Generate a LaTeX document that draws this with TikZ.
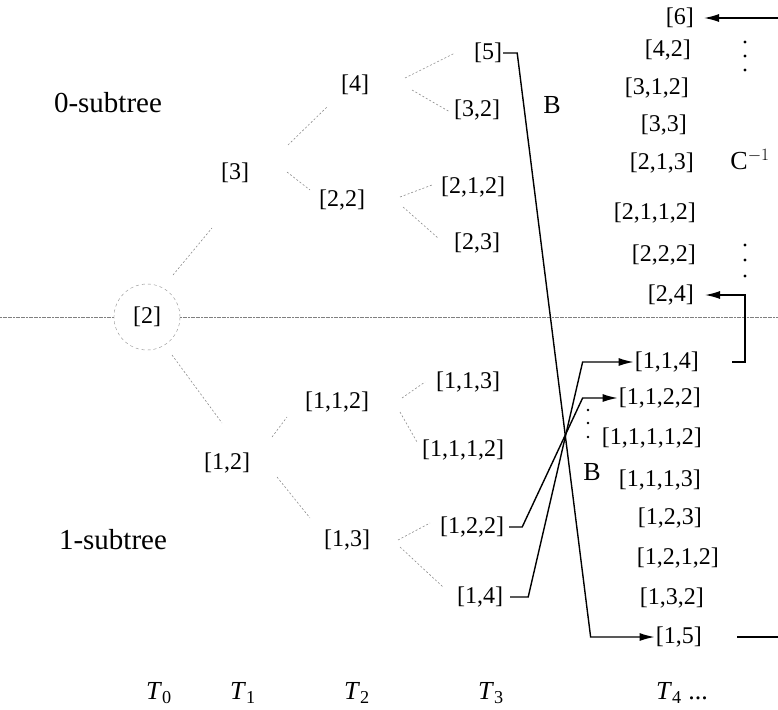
\documentclass[tikz,border=0pt]{standalone}
\usepackage{fontspec}
\setmainfont{Liberation Serif}
\usetikzlibrary{arrows.meta,calc}
\begin{document}
\begin{tikzpicture}[x=1pt,y=-1pt,
  lbl/.style={font=\fontsize{24}{28}\selectfont, inner sep=1pt},
  big/.style={font=\fontsize{29}{34}\selectfont, inner sep=0pt},
  branch/.style={draw=black!45, line width=0.6pt, dash pattern=on 2pt off 2pt},
  hline/.style={draw=black!50, line width=0.9pt, dash pattern=on 2pt off 0.6pt},
  conn/.style={draw=black, line width=1.4pt},
  arr/.style={conn, -{Latex[length=15pt,width=8pt]}},
  dot/.style={fill=black}
  ]
\useasboundingbox (0,0) rectangle (778,709);
% tree nodes
\node[lbl, circle, draw=black!45, dashed, minimum size=66pt] (n2) at (147,317) {[2]};
\node[lbl] (n3) at (235,173) {[3]};
\node[lbl] (n12) at (227,463) {[1,2]};
\node[lbl] (n4) at (355,85) {[4]};
\node[lbl] (n22) at (342,200) {[2,2]};
\node[lbl] (n112) at (337,402) {[1,1,2]};
\node[lbl] (n13) at (347,540) {[1,3]};
\node[lbl] (n5) at (488,53) {[5]};
\node[lbl] (n32) at (477,110) {[3,2]};
\node[lbl] (n212) at (473,187) {[2,1,2]};
\node[lbl] (n23) at (477,243) {[2,3]};
\node[lbl] (n113) at (468,382) {[1,1,3]};
\node[lbl] (n1112) at (463,450) {[1,1,1,2]};
\node[lbl] (n122) at (472,527) {[1,2,2]};
\node[lbl] (n14) at (480,597) {[1,4]};
% right column
\node[lbl, anchor=east] (r6) at (695,18) {[6]};
\node[lbl, anchor=east] (r42) at (692,50) {[4,2]};
\node[lbl, anchor=east] (r312) at (690,88) {[3,1,2]};
\node[lbl, anchor=east] (r33) at (688,125) {[3,3]};
\node[lbl, anchor=east] (r213) at (695,163) {[2,1,3]};
\node[lbl, anchor=east] (r2112) at (697,213) {[2,1,1,2]};
\node[lbl, anchor=east] (r222) at (697,255) {[2,2,2]};
\node[lbl, anchor=east] (r24) at (695,295) {[2,4]};
\node[lbl, anchor=east] (r114) at (700,362) {[1,1,4]};
\node[lbl, anchor=east] (r1122) at (702,398) {[1,1,2,2]};
\node[lbl, anchor=east] (r11112) at (703,438) {[1,1,1,1,2]};
\node[lbl, anchor=east] (r1113) at (702,480) {[1,1,1,3]};
\node[lbl, anchor=east] (r123) at (703,518) {[1,2,3]};
\node[lbl, anchor=east] (r1212) at (720,558) {[1,2,1,2]};
\node[lbl, anchor=east] (r132) at (705,598) {[1,3,2]};
\node[lbl, anchor=east] (r15) at (703,637) {[1,5]};
% labels
\node[big] (sub0) at (108,103) {0-subtree};
\node[big] (sub1) at (113,540) {1-subtree};
\node[lbl, font=\fontsize{26}{30}\selectfont] (B1) at (552,105) {B};
\node[lbl, font=\fontsize{26}{30}\selectfont] (B2) at (592,472) {B};
\node[lbl, font=\fontsize{26}{30}\selectfont] (Cinv) at (750,160) {C$^{-1}$};
\node[lbl, font=\fontsize{26}{30}\selectfont] (T0) at (159,693) {\textit{T}\textsubscript{0}};
\node[lbl, font=\fontsize{26}{30}\selectfont] (T1) at (243,693) {\textit{T}\textsubscript{1}};
\node[lbl, font=\fontsize{26}{30}\selectfont] (T2) at (357,693) {\textit{T}\textsubscript{2}};
\node[lbl, font=\fontsize{26}{30}\selectfont] (T3) at (491,693) {\textit{T}\textsubscript{3}};
\node[lbl, font=\fontsize{26}{30}\selectfont] (T4) at (682,693) {\textit{T}\textsubscript{4} ...};
% separating line
\coordinate (hl) at (0,317);
\coordinate (hr) at (778,317);
\draw[hline] (hl) -- (n2.west);
\draw[hline] (n2.east) -- (hr);
% branches
\draw[branch] ($(n2)+(26,-42)$) -- ($(n3)+(-23,55)$);
\draw[branch] ($(n2)+(25,38)$) -- ($(n12)+(-5,-40)$);
\draw[branch] ($(n3)+(53,-28)$) -- ($(n4)+(-28,22)$);
\draw[branch] ($(n3)+(52,-1)$) -- ($(n22)+(-32,-10)$);
\draw[branch] ($(n12)+(45,-26)$) -- ($(n112)+(-50,15)$);
\draw[branch] ($(n12)+(50,14)$) -- ($(n13)+(-37,-22)$);
\draw[branch] ($(n4)+(50,-7)$) -- ($(n5)+(-33,0)$);
\draw[branch] ($(n4)+(57,5)$) -- ($(n32)+(-27,2)$);
\draw[branch] ($(n22)+(58,-3)$) -- ($(n212)+(-41,-2)$);
\draw[branch] ($(n22)+(61,7)$) -- ($(n23)+(-39,-5)$);
\draw[branch] ($(n112)+(65,-4)$) -- ($(n113)+(-43,0)$);
\draw[branch] ($(n112)+(63,10)$) -- ($(n1112)+(-46,-8)$);
\draw[branch] ($(n13)+(51,0)$) -- ($(n122)+(-42,-4)$);
\draw[branch] ($(n13)+(53,7)$) -- ($(n14)+(-37,-10)$);
% B connectors
\draw[arr] (n5.east) -- ++(14,0) -- ($(r15.west)+(-64,0)$) -- (r15.west);
\draw[arr, shorten <=4pt] (n122.east) -- ++(17,0) -- ($(r1122.west)+(-35,0)$) -- (r1122.west);
\draw[arr, shorten <=6pt] (n14.east) -- ++(24,0) -- ($(r114.west)+(-51,0)$) -- (r114.west);
% C^-1 connectors
\coordinate (e6) at (778,18);
\draw[arr, shorten >=9pt] (e6) -- (r6.east);
\draw[arr, shorten >=10pt] ($(r114.east)+(32,0)$) -- ++(13,0) |- (r24.east);
\coordinate (e15) at (778,637);
\draw[conn] ($(r15.east)+(34,0)$) -- (e15);
% dots
\foreach \y in {42,56,70,245,260,276} \fill[dot] (745,\y) circle (1.6pt);
\foreach \y in {410,423,437} \fill[dot] (588,\y) circle (1.4pt);
\end{tikzpicture}
\end{document}
